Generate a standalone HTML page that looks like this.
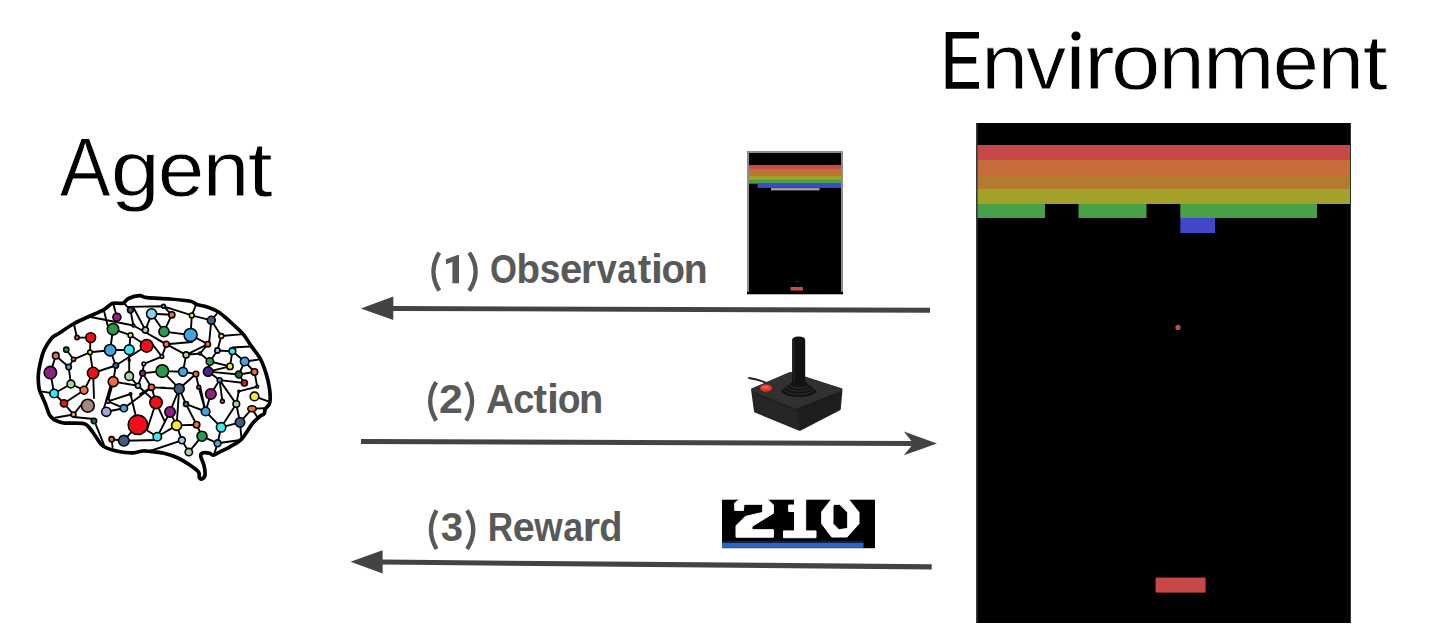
<!DOCTYPE html>
<html><head><meta charset="utf-8">
<style>
html,body{margin:0;padding:0;background:#fff;width:1434px;height:644px;overflow:hidden}
svg{display:block}
.t{font-family:"Liberation Sans",sans-serif}
</style></head><body>
<svg width="1434" height="644" viewBox="0 0 1434 644">
<rect width="1434" height="644" fill="#fff"/>
<g font-family="Liberation Sans" font-size="83" fill="#000" stroke="#fff" stroke-width="0.8">
<path stroke="none" d="M945.7,32H979V38.4H952.5V57.1H976.2V63.4H952.5V82.1H979V88.8H945.7Z"/>
<text transform="translate(981.20,89.0) scale(1.0153,0.9450)" x="0" y="0">n</text>
<text transform="translate(1026.33,89.0) scale(0.9601,0.9450)" x="0" y="0">v</text>
<path stroke="none" d="M1071.8,46.7H1079.2V88.8H1071.8Z"/><circle stroke="none" cx="1076" cy="36" r="4.6"/>
<text transform="translate(1083.84,89.0) scale(1.1181,0.9450)" x="0" y="0">r</text>
<text transform="translate(1111.06,89.0) scale(1.0717,0.9450)" x="0" y="0">o</text>
<text transform="translate(1158.60,89.0) scale(0.9983,0.9450)" x="0" y="0">n</text>
<text transform="translate(1203.09,89.0) scale(1.0351,0.9450)" x="0" y="0">m</text>
<text transform="translate(1272.87,89.0) scale(1.0014,0.9450)" x="0" y="0">e</text>
<text transform="translate(1317.55,89.0) scale(1.0068,0.9450)" x="0" y="0">n</text>
<text transform="translate(1362.70,89.0) scale(1.0800,0.9450)" x="0" y="0">t</text>
<text transform="translate(59.85,196.1) scale(0.9194,1.0050)" x="0" y="0">A</text>
<text transform="translate(110.69,196.1) scale(1.0636,0.9450)" x="0" y="0">g</text>
<text transform="translate(157.74,196.1) scale(1.0091,0.9450)" x="0" y="0">e</text>
<text transform="translate(202.63,196.1) scale(1.0097,0.9450)" x="0" y="0">n</text>
<text transform="translate(247.65,196.1) scale(1.0800,0.9450)" x="0" y="0">t</text>
</g>
<g font-family="Liberation Sans" font-weight="bold" font-size="40" fill="#595959">
<path fill="none" stroke="#595959" stroke-width="4.3" d="M439.30,252.60 Q427.60,271.65 439.30,290.70"/>
<path d="M452.4,283.2H459V254.9H457.6L445.9,259.3V264.2L452.4,262Z"/>
<path fill="none" stroke="#595959" stroke-width="4.3" d="M469.20,252.60 Q482.10,271.65 469.20,290.70"/>
<text transform="translate(489.98,283.00) scale(0.8671,1.0200)">O</text>
<text transform="translate(516.56,283.00) scale(0.9625,1.0100)">b</text>
<text transform="translate(539.80,283.00) scale(0.9271,1.0100)">s</text>
<text transform="translate(559.93,283.00) scale(1.0043,1.0100)">e</text>
<text transform="translate(581.05,283.00) scale(0.9656,1.0100)">r</text>
<text transform="translate(596.46,283.00) scale(0.9127,1.0100)">v</text>
<text transform="translate(617.19,283.00) scale(0.8627,1.0100)">a</text>
<text transform="translate(637.71,283.00) scale(1.0127,1.0100)">t</text>
<text transform="translate(650.90,283.00) scale(1.0750,1.0100)">i</text>
<text transform="translate(661.60,283.00) scale(0.9621,1.0100)">o</text>
<text transform="translate(683.72,283.00) scale(0.9784,1.0100)">n</text>
<path fill="none" stroke="#595959" stroke-width="4.3" d="M436.20,382.20 Q424.10,401.40 436.20,420.60"/>
<text transform="translate(439.02,412.80) scale(1.0697,1.0200)">2</text>
<path fill="none" stroke="#595959" stroke-width="4.3" d="M466.10,382.20 Q478.20,401.40 466.10,420.60"/>
<text transform="translate(485.94,412.80) scale(0.9651,1.0200)">A</text>
<text transform="translate(513.21,412.80) scale(0.9533,1.0100)">c</text>
<text transform="translate(533.51,412.80) scale(1.0127,1.0100)">t</text>
<text transform="translate(546.90,412.80) scale(1.0750,1.0100)">i</text>
<text transform="translate(557.64,412.80) scale(0.9339,1.0100)">o</text>
<text transform="translate(579.08,412.80) scale(0.9940,1.0100)">n</text>
<path fill="none" stroke="#595959" stroke-width="4.3" d="M436.60,510.30 Q425.30,529.65 436.60,549.00"/>
<text transform="translate(440.78,541.00) scale(1.0059,1.0200)">3</text>
<path fill="none" stroke="#595959" stroke-width="4.3" d="M467.10,510.30 Q479.40,529.65 467.10,549.00"/>
<text transform="translate(487.65,541.00) scale(0.8783,1.0200)">R</text>
<text transform="translate(512.86,541.00) scale(0.9888,1.0100)">e</text>
<text transform="translate(534.31,541.00) scale(0.9135,1.0100)">w</text>
<text transform="translate(563.15,541.00) scale(0.8955,1.0100)">a</text>
<text transform="translate(582.53,541.00) scale(1.1279,1.0100)">r</text>
<text transform="translate(599.25,541.00) scale(0.9476,1.0100)">d</text>
</g>
<g fill="#434343" stroke="none">
<polygon points="393,306 930,307.8 930,312.7 393,310.9"/>
<polygon points="360.8,308.4 393.3,296.5 393.3,320"/>
<polygon points="361,439 914,441 914,446 361,444"/>
<polygon points="937,443.4 903.8,431.5 913.5,443.4 903.8,455.3"/>
<polygon points="382,559.6 931.7,564.2 931.7,569.5 382,564.5"/>
<polygon points="350.5,561.8 382.6,550.3 382.6,573.5"/>
</g>
<g>
<rect x="976" y="123" width="375" height="500" fill="#000"/>
<rect x="976" y="145" width="375" height="15" fill="#c84848"/>
<rect x="976" y="160" width="375" height="15" fill="#c66c3a"/>
<rect x="976" y="175" width="375" height="14" fill="#b47a30"/>
<rect x="976" y="189" width="375" height="15" fill="#a2a22a"/>
<rect x="976" y="204" width="69" height="14" fill="#48a048"/>
<rect x="1078.5" y="204" width="68" height="14" fill="#48a048"/>
<rect x="1180.3" y="204" width="136.7" height="14" fill="#48a048"/>
<rect x="1180.3" y="218" width="34.7" height="15" fill="#4248c8"/>
<rect x="1155.6" y="577.6" width="50" height="15" fill="#c84848"/>
<circle cx="1178" cy="327.4" r="2.6" fill="#c84848"/>
<rect x="1350" y="123" width="1" height="500" fill="#2a3a2a"/>
<rect x="976" y="123" width="1.6" height="500" fill="#3a3a3a"/>
</g>
<g>
<rect x="747" y="151" width="96" height="143" fill="#8e8e8e"/>
<rect x="749" y="153" width="92" height="141" fill="#000"/>
<rect x="749" y="165" width="92" height="4.7" fill="#c84848"/>
<rect x="749" y="168.7" width="92" height="4.7" fill="#c66c3a"/>
<rect x="749" y="172.4" width="92" height="4.7" fill="#b47a30"/>
<rect x="749" y="176.1" width="92" height="4.7" fill="#a2a22a"/>
<rect x="749" y="179.8" width="92" height="3.9" fill="#48a048"/>
<rect x="757.6" y="183.7" width="83.4" height="4.2" fill="#4248c8"/>
<rect x="771" y="188.1" width="48.5" height="2.3" fill="#a4a4a4"/>
<rect x="790.5" y="287" width="12.5" height="3.6" fill="#c84848"/>
<rect x="796.5" y="281" width="1.2" height="1.2" fill="#c84848"/>
<rect x="747" y="291.9" width="96" height="2.4" fill="#000"/>
</g>
<g>
<rect x="722" y="499.7" width="153" height="48.5" fill="#000"/>
<rect x="722" y="540.8" width="141.5" height="2.4" fill="#0c2248"/><rect x="722" y="543" width="141.5" height="4.9" fill="#2866c2"/>
<filter id="bl" x="-10%" y="-10%" width="120%" height="120%"><feGaussianBlur stdDeviation="0.55"/></filter>
<g fill="#fff" stroke="#fff" stroke-width="1.0" stroke-linejoin="round" filter="url(#bl)">
<polygon points="740,499 767.4,499 773.4,505 773.4,513.3 752,526.4 752,529.7 773.4,529.7 773.4,537.2 736,537.2 736,525.7 745.4,516.4 762.7,512.4 762.7,504.3 744,504.3 743.4,510.4 734.7,510.4 734.7,503"/>
<polygon points="794.6,499 805.7,499 805.7,530.9 816,530.9 816,537.7 783.5,537.7 783.5,530.9 794.6,530.9 794.6,511.5 788.7,511.5 788.7,505 794.6,505"/>
<path fill-rule="evenodd" d="M831.7,499 L848.4,499 L859,512.4 L859,523.7 L847,537 L831.7,537 L821.7,523.7 L821.7,511.7 Z M833.7,504.3 L839.7,504.3 L847.7,512.4 L847.7,528.4 L839,529.7 L833,523.7 L833,507 Z"/>
</g>
</g>
<g id="joy">
<path d="M749,378 Q758,379.5 767,383" stroke="#1e1e1e" stroke-width="1.8" fill="none" stroke-linecap="round"/>
<path d="M752.6,389.7 L790.4,373.5 L841,389.7 L839.3,408.9 L799.7,429.3 L755.5,411.2 Z" fill="#242222" stroke="#242222" stroke-width="3" stroke-linejoin="round"/>
<path d="M752.6,389.7 L796.2,407.5 L799.7,429.3 L755.5,411.2 Z" fill="#272525"/>
<path d="M796.2,407.5 L841,389.7 L839.3,408.9 L799.7,429.3 Z" fill="#1f1d1d"/>
<path d="M752.6,389.7 L790.4,373.5 L841,389.7 L796.2,407.5 Z" fill="#333030" stroke="#333030" stroke-width="2.4" stroke-linejoin="round"/>
<path d="M754,393 L797,411 L839.5,393" fill="none" stroke="#1a1818" stroke-width="0.8"/>
<g fill="#131313" stroke="#3e3b3b" stroke-width="0.7">
<ellipse cx="798.8" cy="391.2" rx="17.8" ry="6.4"/>
<ellipse cx="798.8" cy="388.9" rx="15.2" ry="5.4"/>
<ellipse cx="798.8" cy="386.6" rx="12.5" ry="4.5"/>
<ellipse cx="798.8" cy="384.4" rx="9.6" ry="3.6"/>
</g>
<path d="M792.1,384 L792.1,340 Q792.1,336.5 798.6,336.5 Q805.2,336.5 805.2,340 L805.2,384 Z" fill="#121212"/>
<path d="M794,382 L794,341" stroke="#2a2a2a" stroke-width="1" fill="none"/>
<ellipse cx="766" cy="388" rx="6" ry="3.6" fill="#e83a22"/>
<ellipse cx="765.5" cy="387.2" rx="3.5" ry="1.6" fill="#f35a40"/>
</g>
<g id="brain">
<path d="M54.0,419.7 C53.2,418.9 50.7,417.2 49.3,414.6 C47.9,412.0 46.7,407.2 45.6,404.3 C44.5,401.4 43.6,399.8 42.5,397.2 C41.4,394.6 39.9,392.4 39.2,388.8 C38.5,385.2 38.1,380.0 38.3,375.8 C38.4,371.6 39.1,368.0 40.1,363.6 C41.1,359.2 42.3,353.9 44.3,349.6 C46.3,345.3 49.7,340.4 52.0,337.8 C54.3,335.2 54.6,336.2 58.3,333.8 C62.0,331.4 69.0,326.4 74.1,323.5 C79.2,320.6 84.0,318.8 89.0,316.5 C94.0,314.2 100.0,311.8 103.9,309.6 C107.8,307.4 109.1,304.6 112.3,303.5 C115.5,302.4 120.2,304.0 122.9,303.2 C125.6,302.4 125.7,299.8 128.5,298.5 C131.3,297.2 136.6,295.8 139.7,295.7 C142.8,295.6 142.0,297.1 147.1,297.6 C152.2,298.2 162.8,298.4 170.0,299.0 C177.2,299.6 186.0,300.4 190.5,301.3 C195.0,302.2 194.2,303.7 197.0,304.6 C199.8,305.5 203.5,305.6 207.2,306.9 C210.9,308.2 214.6,309.2 219.3,312.5 C224.0,315.8 231.0,322.5 235.2,326.4 C239.4,330.3 241.9,332.6 244.5,335.8 C247.1,339.0 248.3,341.8 250.9,345.6 C253.5,349.4 257.7,354.1 260.2,358.6 C262.7,363.1 264.2,367.6 265.8,372.6 C267.4,377.6 268.8,383.4 269.5,388.4 C270.2,393.4 270.5,399.2 269.8,402.6 C269.1,406.1 266.1,407.2 265.2,409.1 C264.3,411.0 265.1,412.6 264.2,413.8 C263.3,415.1 261.6,414.9 259.6,416.6 C257.6,418.3 255.1,420.2 252.1,424.0 C249.1,427.8 245.2,435.3 241.5,439.1 C237.8,442.9 233.4,444.8 230.0,446.8 C226.6,448.9 223.6,450.0 220.8,451.4 C218.0,452.8 215.2,454.8 213.3,455.1 C211.4,455.4 211.3,453.7 209.6,453.3 C207.9,452.9 204.6,452.3 203.1,452.8 C201.6,453.3 200.5,454.0 200.7,456.1 C200.8,458.2 203.3,462.1 204.0,465.4 C204.7,468.6 205.3,473.4 204.9,475.6 C204.5,477.9 202.6,478.6 201.7,478.9 C200.8,479.2 199.9,478.7 199.3,477.5 C198.8,476.3 200.1,474.1 198.4,471.9 C196.7,469.7 192.5,466.8 189.1,464.5 C185.7,462.2 182.1,459.9 177.9,458.0 C173.7,456.1 168.7,454.4 164.0,453.3 C159.3,452.2 153.6,451.8 150.0,451.4 C146.4,451.0 145.4,450.8 142.6,451.0 C139.8,451.2 137.1,452.7 133.3,452.8 C129.5,452.9 125.0,452.9 120.0,451.8 C115.0,450.7 107.3,448.7 103.3,446.2 C99.3,443.7 98.2,440.0 95.9,436.9 C93.6,433.8 91.5,429.9 89.3,427.6 C87.1,425.4 87.1,424.2 82.8,423.4 C78.5,422.6 68.1,423.6 63.3,423.0 C58.5,422.4 55.5,420.2 54.0,419.7Z" fill="#fff" stroke="#000" stroke-width="3.7" stroke-linejoin="round"/>
<path d="M74.1,324.5L76.9,337.5M77.0,337.5L90.7,337.6M89.5,316.8L133.4,325.5M103.9,310.6L107.5,325.0M90.5,337.6L90.0,352.3M113.0,329.2L110.2,350.2M113.6,305.0L116.9,317.2M124.8,304.1L130.4,310.1M128.5,306.9L163.5,306.3M130.4,310.1L133.4,325.5M134.1,308.8L145.4,330.1M151.6,313.8L145.4,330.1M151.6,313.8L171.8,314.8M163.5,306.3L171.8,314.8M151.6,313.8L164.0,331.6M171.8,314.8L164.0,331.6M164.0,331.6L190.6,335.0M113.0,329.2L130.5,335.2M130.5,335.2L129.2,349.8M130.5,335.2L146.7,345.8M133.4,325.5L166.3,344.2M166.3,344.2L192.0,342.0M163.5,306.3L191.8,315.4M191.8,315.4L196.1,304.5M191.8,315.4L211.3,320.3M211.3,320.3L216.6,314.0M191.8,315.4L190.6,335.0M190.6,335.0L207.8,344.2M211.3,320.3L209.0,344.0M211.3,320.3L221.3,336.0M221.3,336.0L240.8,334.4M221.3,336.0L217.4,350.5M207.8,344.2L186.1,354.9M232.4,347.5L250.0,346.5M207.8,344.2L200.1,353.5M217.4,350.5L232.4,351.2M217.4,350.5L209.9,361.5M200.1,353.5L209.9,361.5M232.4,351.2L230.0,366.4M232.4,351.2L244.7,361.5M244.7,361.5L258.3,359.6M209.9,361.5L208.1,371.6M209.9,361.5L230.0,366.4M208.1,371.6L230.0,366.4M208.1,371.6L238.8,374.5M238.8,374.5L254.5,372.0M238.8,374.5L244.7,361.5M244.7,361.5L254.5,372.0M208.1,371.6L219.6,380.1M219.6,380.1L244.4,383.0M238.8,374.5L244.4,383.0M219.6,380.1L210.8,394.0M219.6,380.1L222.4,401.3M219.6,380.1L236.3,404.1M238.8,391.3L257.2,386.6M238.8,391.3L236.3,404.1M254.5,372.0L257.2,386.6M195.9,374.0L198.7,387.2M115.8,365.5L146.7,345.8M150.0,341.0L161.9,356.6M166.3,344.2L161.9,356.6M166.3,344.2L158.0,340.0M186.1,354.9L200.1,353.5M186.1,354.9L183.0,371.8M161.9,356.6L143.8,363.8M143.8,363.8L142.6,373.2M142.6,373.2L162.3,371.1M162.3,371.1L183.0,371.8M162.3,371.1L179.2,388.7M183.0,371.8L195.9,374.0M195.9,374.0L179.2,388.7M142.6,373.2L151.6,387.4M151.6,387.4L179.2,388.7M151.6,387.4L140.0,394.0M151.6,387.4L156.0,402.5M179.2,388.7L170.0,411.9M198.7,387.2L205.6,411.5M66.3,349.7L73.5,359.3M73.5,359.3L68.7,367.0M55.8,355.7L68.7,367.0M55.8,355.7L50.4,372.6M73.5,359.3L90.0,352.3M90.0,352.3L110.2,350.2M90.0,352.3L93.1,373.0M93.1,373.0L115.8,365.5M93.1,373.0L94.0,398.0M93.1,373.0L84.0,390.2M68.7,367.0L70.9,384.0M50.4,372.6L54.1,393.5M70.9,384.0L54.1,393.5M70.9,384.0L84.0,390.2M54.1,393.5L42.5,391.6M54.1,393.5L64.0,403.3M64.0,403.3L84.0,390.2M110.2,350.2L129.2,349.8M110.2,350.2L115.8,365.5M115.8,365.5L113.2,381.6M129.2,349.8L129.2,376.2M166.3,344.2L186.1,354.9M113.2,381.6L138.0,385.8M113.2,381.6L108.0,401.3M111.0,384.0L104.0,408.0M129.2,376.2L138.0,385.8M142.6,373.2L138.0,385.8M151.6,387.4L165.0,387.7M138.0,385.8L156.0,402.5M151.6,387.4L123.9,408.2M130.5,394.0L108.0,401.3M130.5,394.0L137.9,424.8M108.0,401.3L123.9,408.2M106.3,411.8L123.9,408.2M156.0,402.5L147.0,430.0M64.0,403.3L73.5,414.5M73.5,414.5L81.0,405.2M73.5,414.5L55.0,417.8M73.5,417.0L94.0,419.0M95.9,424.8L104.2,445.3M111.6,439.2L112.6,447.0M111.6,439.2L123.8,440.7M137.9,424.8L123.8,440.7M137.9,424.8L157.3,436.7M123.8,440.7L157.3,440.0M157.3,436.7L170.0,411.9M157.3,436.7L176.6,425.4M170.0,411.9L176.6,425.4M176.6,425.4L196.6,424.7M176.6,425.4L181.9,440.3M181.9,440.3L150.0,451.0M181.9,440.3L188.8,452.1M186.0,404.1L179.2,388.7M186.0,404.1L205.6,411.5M186.0,404.1L196.6,424.7M205.6,411.5L221.1,427.3M236.3,404.1L221.1,427.3M236.3,404.1L240.0,422.3M252.0,408.7L240.0,422.3M252.0,408.7L258.2,418.6M252.0,408.7L264.2,408.2M221.1,427.3L240.0,422.3M240.0,422.3L241.5,439.1M196.6,424.7L202.0,436.2M202.0,436.2L217.6,443.3M221.1,427.3L217.6,443.3M217.6,443.3L240.5,440.0M217.6,443.3L214.5,453.1M202.0,436.2L188.8,452.1M254.5,396.4L268.9,401.7M210.8,394.0L205.6,411.5M200.0,385.8L205.6,411.5M156.0,402.5L165.0,422.0M179.2,388.7L176.6,425.4" stroke="#000" stroke-width="1.9" fill="none" stroke-linecap="round"/>
<circle cx="116.9" cy="317.2" r="4.0" fill="#8e2082" stroke="#000" stroke-width="1.6"/>
<circle cx="130.4" cy="310.1" r="2.9" fill="#3d5d82" stroke="#000" stroke-width="1.6"/>
<circle cx="151.6" cy="313.8" r="5.1" fill="#90cdf2" stroke="#000" stroke-width="1.6"/>
<circle cx="163.5" cy="306.3" r="1.9" fill="#40a6e8" stroke="#000" stroke-width="1.6"/>
<circle cx="171.8" cy="314.8" r="3.1" fill="#f56a3a" stroke="#000" stroke-width="1.6"/>
<circle cx="113.0" cy="329.2" r="5.7" fill="#2a9a48" stroke="#000" stroke-width="1.6"/>
<circle cx="133.4" cy="325.5" r="1.4" fill="#f56a3a" stroke="#000" stroke-width="1.6"/>
<circle cx="145.4" cy="330.1" r="3.0" fill="#a8d6a0" stroke="#000" stroke-width="1.6"/>
<circle cx="130.5" cy="335.2" r="2.4" fill="#f6ea3a" stroke="#000" stroke-width="1.6"/>
<circle cx="146.7" cy="345.8" r="6.3" fill="#f20d17" stroke="#000" stroke-width="1.6"/>
<circle cx="77.0" cy="337.5" r="2.1" fill="#f56a3a" stroke="#000" stroke-width="1.6"/>
<circle cx="90.7" cy="337.6" r="4.9" fill="#f20d17" stroke="#000" stroke-width="1.6"/>
<circle cx="90.0" cy="352.3" r="2.3" fill="#f6ea3a" stroke="#000" stroke-width="1.6"/>
<circle cx="110.2" cy="350.2" r="5.7" fill="#40a6e8" stroke="#000" stroke-width="1.6"/>
<circle cx="129.2" cy="349.8" r="4.9" fill="#33ecf4" stroke="#000" stroke-width="1.6"/>
<circle cx="129.2" cy="360.3" r="0.9" fill="#f6ea3a" stroke="#000" stroke-width="1.6"/>
<circle cx="66.3" cy="349.7" r="2.6" fill="#2a9a48" stroke="#000" stroke-width="1.6"/>
<circle cx="55.8" cy="355.7" r="3.3" fill="#f56a3a" stroke="#000" stroke-width="1.6"/>
<circle cx="73.5" cy="359.3" r="2.1" fill="#f56a3a" stroke="#000" stroke-width="1.6"/>
<circle cx="68.7" cy="367.0" r="2.7" fill="#40a6e8" stroke="#000" stroke-width="1.6"/>
<circle cx="50.4" cy="372.6" r="6.2" fill="#8e2082" stroke="#000" stroke-width="1.6"/>
<circle cx="93.1" cy="373.0" r="5.7" fill="#f20d17" stroke="#000" stroke-width="1.6"/>
<circle cx="115.8" cy="365.5" r="2.7" fill="#3d5d82" stroke="#000" stroke-width="1.6"/>
<circle cx="113.2" cy="381.6" r="5.0" fill="#f56a3a" stroke="#000" stroke-width="1.6"/>
<circle cx="129.2" cy="376.2" r="4.3" fill="#a8d6a0" stroke="#000" stroke-width="1.6"/>
<circle cx="143.8" cy="363.8" r="1.8" fill="#f6ea3a" stroke="#000" stroke-width="1.6"/>
<circle cx="142.6" cy="373.2" r="2.8" fill="#8e2082" stroke="#000" stroke-width="1.6"/>
<circle cx="70.9" cy="384.0" r="3.9" fill="#a8d6a0" stroke="#000" stroke-width="1.6"/>
<circle cx="84.0" cy="390.2" r="3.9" fill="#f56a3a" stroke="#000" stroke-width="1.6"/>
<circle cx="54.1" cy="393.5" r="4.3" fill="#33ecf4" stroke="#000" stroke-width="1.6"/>
<circle cx="138.0" cy="385.8" r="2.5" fill="#90cdf2" stroke="#000" stroke-width="1.6"/>
<circle cx="151.5" cy="387.3" r="3.1" fill="#f56a3a" stroke="#000" stroke-width="1.6"/>
<circle cx="130.5" cy="394.0" r="1.3" fill="#1f6e3a" stroke="#000" stroke-width="1.6"/>
<circle cx="191.8" cy="315.4" r="2.4" fill="#f6ea3a" stroke="#000" stroke-width="1.6"/>
<circle cx="211.3" cy="320.3" r="4.0" fill="#3d5d82" stroke="#000" stroke-width="1.6"/>
<circle cx="164.0" cy="331.6" r="5.1" fill="#2a9a48" stroke="#000" stroke-width="1.6"/>
<circle cx="190.6" cy="335.0" r="6.5" fill="#40a6e8" stroke="#000" stroke-width="1.6"/>
<circle cx="221.3" cy="336.0" r="2.4" fill="#f6ea3a" stroke="#000" stroke-width="1.6"/>
<circle cx="166.3" cy="344.2" r="2.9" fill="#f56a3a" stroke="#000" stroke-width="1.6"/>
<circle cx="207.8" cy="344.2" r="2.7" fill="#f56a3a" stroke="#000" stroke-width="1.6"/>
<circle cx="217.4" cy="350.5" r="2.6" fill="#90cdf2" stroke="#000" stroke-width="1.6"/>
<circle cx="232.4" cy="351.2" r="3.3" fill="#33ecf4" stroke="#000" stroke-width="1.6"/>
<circle cx="186.1" cy="354.9" r="3.0" fill="#a8d6a0" stroke="#000" stroke-width="1.6"/>
<circle cx="200.1" cy="353.5" r="1.4" fill="#8e2082" stroke="#000" stroke-width="1.6"/>
<circle cx="161.9" cy="356.6" r="1.8" fill="#a8d6a0" stroke="#000" stroke-width="1.6"/>
<circle cx="209.9" cy="361.5" r="3.7" fill="#2a9a48" stroke="#000" stroke-width="1.6"/>
<circle cx="244.7" cy="361.5" r="4.3" fill="#40a6e8" stroke="#000" stroke-width="1.6"/>
<circle cx="230.0" cy="366.4" r="3.1" fill="#f6ea3a" stroke="#000" stroke-width="1.6"/>
<circle cx="162.3" cy="371.1" r="6.3" fill="#2a9a48" stroke="#000" stroke-width="1.6"/>
<circle cx="183.0" cy="371.8" r="4.4" fill="#40a6e8" stroke="#000" stroke-width="1.6"/>
<circle cx="208.1" cy="371.6" r="4.7" fill="#4a2090" stroke="#000" stroke-width="1.6"/>
<circle cx="195.9" cy="374.0" r="2.8" fill="#f56a3a" stroke="#000" stroke-width="1.6"/>
<circle cx="238.8" cy="374.5" r="3.4" fill="#1f6e3a" stroke="#000" stroke-width="1.6"/>
<circle cx="254.5" cy="372.0" r="3.2" fill="#f56a3a" stroke="#000" stroke-width="1.6"/>
<circle cx="219.6" cy="380.1" r="2.4" fill="#40a6e8" stroke="#000" stroke-width="1.6"/>
<circle cx="244.4" cy="383.0" r="3.0" fill="#f20d17" stroke="#000" stroke-width="1.6"/>
<circle cx="64.0" cy="403.3" r="3.6" fill="#f20d17" stroke="#000" stroke-width="1.6"/>
<circle cx="87.8" cy="405.7" r="6.4" fill="#a48a7c" stroke="#000" stroke-width="1.6"/>
<circle cx="73.5" cy="414.5" r="2.5" fill="#e0a040" stroke="#000" stroke-width="1.6"/>
<circle cx="94.0" cy="421.0" r="2.7" fill="#1f6e3a" stroke="#000" stroke-width="1.6"/>
<circle cx="108.0" cy="401.3" r="1.9" fill="#f56a3a" stroke="#000" stroke-width="1.6"/>
<circle cx="106.3" cy="411.8" r="4.6" fill="#a8a4d8" stroke="#000" stroke-width="1.6"/>
<circle cx="123.9" cy="408.2" r="3.6" fill="#40a6e8" stroke="#000" stroke-width="1.6"/>
<circle cx="137.9" cy="424.8" r="9.7" fill="#f20d17" stroke="#000" stroke-width="1.6"/>
<circle cx="123.8" cy="440.7" r="5.3" fill="#3d5d82" stroke="#000" stroke-width="1.6"/>
<circle cx="111.6" cy="439.2" r="2.6" fill="#f56a3a" stroke="#000" stroke-width="1.6"/>
<circle cx="156.0" cy="402.5" r="6.2" fill="#f20d17" stroke="#000" stroke-width="1.6"/>
<circle cx="157.3" cy="436.7" r="4.2" fill="#33ecf4" stroke="#000" stroke-width="1.6"/>
<circle cx="179.2" cy="388.7" r="5.0" fill="#3d5d82" stroke="#000" stroke-width="1.6"/>
<circle cx="198.7" cy="387.2" r="1.8" fill="#f56a3a" stroke="#000" stroke-width="1.6"/>
<circle cx="210.8" cy="394.0" r="5.3" fill="#8e2082" stroke="#000" stroke-width="1.6"/>
<circle cx="170.0" cy="411.9" r="5.2" fill="#8e2082" stroke="#000" stroke-width="1.6"/>
<circle cx="205.6" cy="411.5" r="4.3" fill="#40a6e8" stroke="#000" stroke-width="1.6"/>
<circle cx="176.6" cy="425.4" r="5.0" fill="#f6ea3a" stroke="#000" stroke-width="1.6"/>
<circle cx="196.6" cy="424.7" r="3.2" fill="#f56a3a" stroke="#000" stroke-width="1.6"/>
<circle cx="221.1" cy="427.3" r="4.7" fill="#33ecf4" stroke="#000" stroke-width="1.6"/>
<circle cx="240.0" cy="422.3" r="4.7" fill="#3d5d82" stroke="#000" stroke-width="1.6"/>
<circle cx="202.0" cy="436.2" r="5.0" fill="#2a9a48" stroke="#000" stroke-width="1.6"/>
<circle cx="181.9" cy="440.3" r="3.4" fill="#90cdf2" stroke="#000" stroke-width="1.6"/>
<circle cx="217.6" cy="443.3" r="3.4" fill="#40a6e8" stroke="#000" stroke-width="1.6"/>
<circle cx="188.8" cy="452.1" r="3.7" fill="#a8d6a0" stroke="#000" stroke-width="1.6"/>
<circle cx="186.0" cy="404.1" r="2.5" fill="#2a9a48" stroke="#000" stroke-width="1.6"/>
<circle cx="222.4" cy="401.3" r="1.9" fill="#f56a3a" stroke="#000" stroke-width="1.6"/>
<circle cx="236.3" cy="404.1" r="3.3" fill="#a8d6a0" stroke="#000" stroke-width="1.6"/>
<circle cx="254.5" cy="396.4" r="4.3" fill="#f6ea3a" stroke="#000" stroke-width="1.6"/>
<circle cx="257.2" cy="386.6" r="1.4" fill="#90cdf2" stroke="#000" stroke-width="1.6"/>
<circle cx="238.8" cy="391.3" r="0.9" fill="#f56a3a" stroke="#000" stroke-width="1.6"/>
<ellipse cx="252.0" cy="408.7" rx="4.2" ry="3.0" fill="#f56a3a" stroke="#000" stroke-width="1.6"/>
</g>
</svg>
</body></html>
